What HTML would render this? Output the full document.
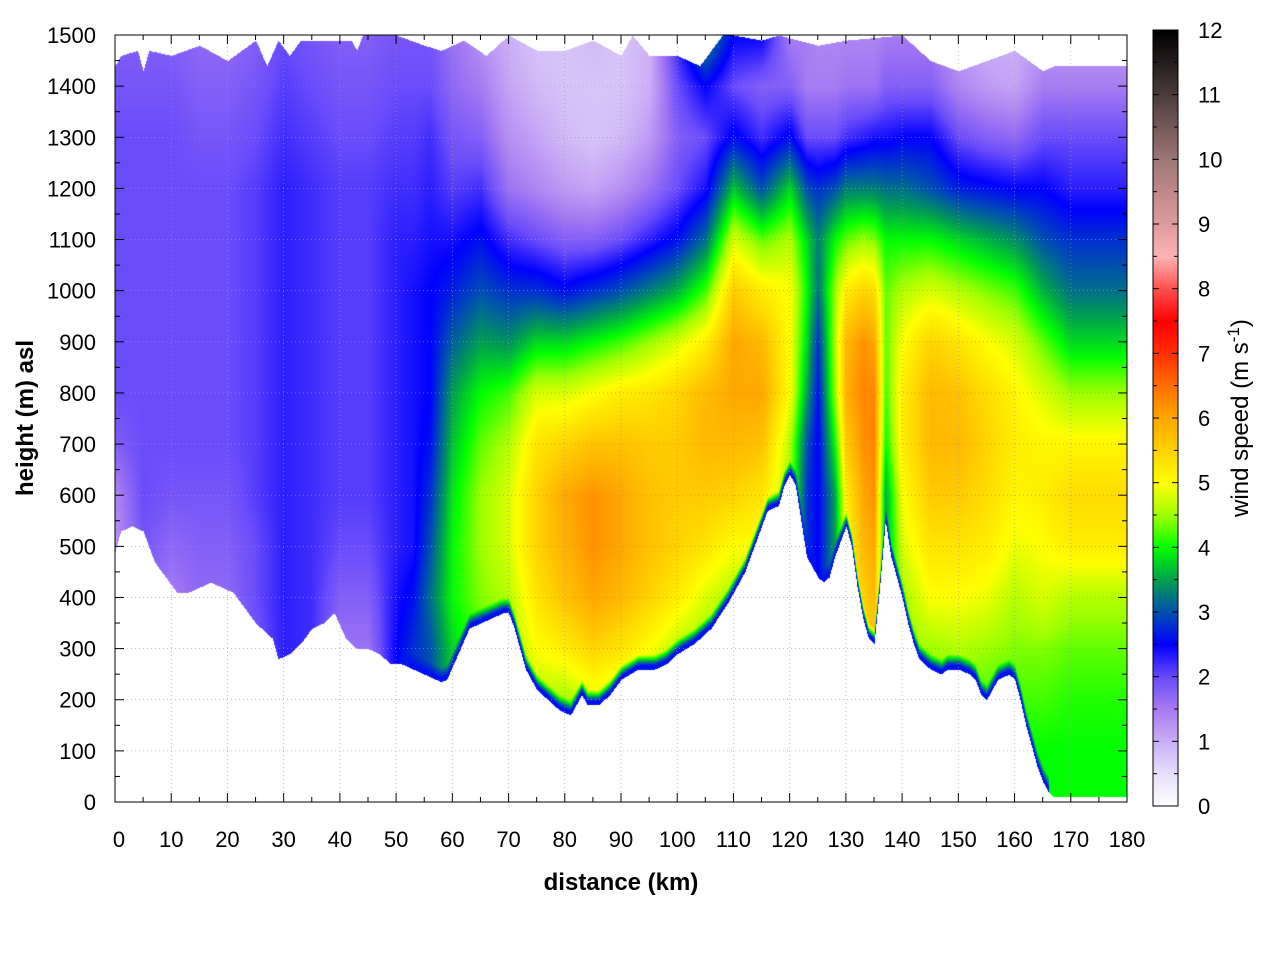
<!DOCTYPE html>
<html><head><meta charset="utf-8"><style>
body{margin:0;background:#fff;width:1280px;height:960px;overflow:hidden;font-family:"Liberation Sans",sans-serif}
#wrap{position:relative;width:1280px;height:960px}
canvas,svg{position:absolute;left:0;top:0}
</style></head><body>
<div id="wrap">
<canvas id="cv" width="1280" height="960"></canvas>
<svg id="sv" width="1280" height="960"></svg>
</div>
<script>
const distances=[0,5,10,15,20,25,30,35,40,45,50,53,56,60,65,70,75,80,85,90,95,100,105,110,115,120,123,125,128,130,133,135,137,140,145,150,155,160,165,170,175,180];
const speeds=[
[1.3,1.3,1.3,1.3,1.3,1.3,1.4,1.8,2,2,2,2,2,2,1.9,1.8],
[1.8,1.8,1.8,1.8,1.8,1.9,2,2,2,2,2,2,2,2,1.9,1.8],
[1.5,1.5,1.5,1.5,1.5,1.7,1.9,2,2,2,2,2,2,2,1.9,1.8],
[1.7,1.7,1.7,1.7,1.7,1.8,1.9,2,2,2,2,2,2,1.9,1.8,1.7],
[1.7,1.7,1.7,1.7,1.7,1.8,1.9,2,2,2,2,2,2,1.9,1.8,1.7],
[1.9,1.9,1.9,1.9,2,2,2.1,2.1,2.1,2.1,2.1,2.1,2.1,2,1.9,1.8],
[2.3,2.3,2.3,2.3,2.3,2.3,2.3,2.3,2.3,2.3,2.3,2.3,2.3,2.2,2.1,2],
[2.2,2.2,2.2,2.2,2.2,2.2,2.2,2.2,2.2,2.2,2.2,2.2,2.2,2.1,2,1.9],
[1.6,1.6,1.6,1.6,1.8,2,2.1,2.1,2.1,2.1,2.1,2.1,2.1,2,1.9,1.8],
[1.6,1.6,1.6,1.6,1.8,2,2.1,2.1,2.1,2.1,2.1,2.1,2.1,2,1.9,1.8],
[2.5,2.5,2.5,2.5,2.4,2.3,2.3,2.3,2.3,2.3,2.3,2.3,2.2,2.1,2,1.9],
[2.8,2.8,2.8,2.8,2.6,2.4,2.4,2.4,2.4,2.4,2.4,2.3,2.2,2.1,2,1.9],
[3,3,3,3,3.2,3,2.8,2.6,2.5,2.5,2.5,2.4,2.3,2.2,2,1.9],
[3.8,3.8,3.8,3.8,4,4,3.9,3.7,3.5,3.1,2.7,2.4,2.1,1.9,1.7,1.6],
[4.2,4.2,4.2,4.2,4.4,4.5,4.5,4.3,4,3.5,3,2.6,2.2,1.8,1.5,1.3],
[4.5,4.5,4.5,4.5,4.6,4.8,4.8,4.6,4.2,3.4,2.8,2.2,1.6,1.3,1.1,1],
[4.5,4.5,4.6,5,5.3,5.5,5.5,5.3,4.8,3.8,2.8,2,1.4,1.1,0.9,0.8],
[4.5,4.5,4.5,5.2,5.7,5.9,6,5.5,4.8,3.8,2.6,1.8,1.2,0.9,0.8,0.8],
[4.5,4.5,4.8,5.5,6,6.2,6.2,5.7,5,4,2.8,1.8,1.1,0.8,0.8,0.9],
[4.5,4.5,4.6,5.3,5.8,6,6,5.7,5.2,4.2,3,2,1.3,0.9,0.8,0.8],
[4.5,4.5,4.5,5,5.5,5.7,5.7,5.6,5.3,4.5,3.3,2.3,1.6,1.2,1,1],
[4.3,4.3,4.3,4.6,5.2,5.5,5.6,5.6,5.5,4.8,3.6,2.6,2,1.8,2,2.3],
[4.3,4.3,4.3,4.4,4.8,5.3,5.6,5.8,5.8,5.2,4.2,3.2,2.4,2,2.5,3.5],
[4.5,4.5,4.5,4.5,4.5,5,5.5,5.8,6,6,5.6,4.8,3.7,2.6,2,2.5],
[5,5,5,5,5,5,5.3,5.7,6,5.8,5.2,4.3,3,2.2,1.8,2.5],
[4.5,4.5,4.5,4.5,4.5,4.5,4.5,4.6,5,5,5,4.6,3.8,2.6,1.8,1.5],
[2.8,2.8,2.8,2.8,2.8,2.8,2.8,3,3.5,3.8,4,3.8,3,2,1.5,1.5],
[2.5,2.5,2.5,2.5,2.5,2.5,2.5,2.5,2.6,2.8,3.2,3.3,2.8,2,1.5,1.4],
[3.5,3.5,3.5,3.5,3.5,3.5,3.5,4,4.5,4.6,4.5,4,3,2,1.5,1.4],
[5,5,5,5,5,5,5.2,5.6,5.9,5.8,5.2,4.3,3.3,2.2,1.6,1.4],
[5.5,5.5,5.5,5.5,5.5,5.8,6,6.2,6.3,6.2,5.5,4.5,3.3,2.3,1.6,1.4],
[5.5,5.5,5.5,5.5,5.8,6,6.2,6.3,6.3,6,5.4,4.4,3.3,2.4,1.6,1.4],
[3.5,3.5,3.5,3.5,3.5,3.5,3.5,4,4.2,4.3,4.3,4,3.2,2.4,1.8,1.5],
[4.5,4.5,4.5,4.5,4.5,4.8,5,5.2,5.2,5,4.6,4,3.2,2.5,1.8,1.5],
[4.2,4.2,4.2,4.5,5,5.3,5.6,5.8,5.8,5.5,4.8,4,3,2.5,1.8,1.5],
[4.3,4.3,4.3,4.6,5,5.3,5.6,5.8,5.7,5.3,4.6,3.8,2.7,2,1.4,1.2],
[4,4,4.2,4.5,4.9,5.2,5.4,5.5,5.4,5,4.4,3.6,2.6,1.8,1.2,1],
[4,4,4.2,4.4,4.6,4.9,5.1,5.2,5.1,4.8,4.2,3.4,2.5,1.7,1.1,1],
[4,4,4.2,4.4,4.8,5,5.2,5.1,4.8,4.3,3.6,3,2.5,2,1.5,1.2],
[4,4,4.1,4.3,4.6,5.2,5.4,5.1,4.5,3.8,3.2,2.8,2.3,2,1.5,1.2],
[4,4,4.1,4.3,4.6,5.2,5.4,5.1,4.5,3.8,3.2,2.8,2.3,2,1.5,1.2],
[4,4,4.1,4.3,4.6,5.2,5.4,5.1,4.5,3.8,3.2,2.8,2.3,2,1.5,1.2]];
const heightLevels=[0,100,200,300,400,500,600,700,800,900,1000,1100,1200,1300,1400,1500];
const terrainKm=[0,1,3,5,7,9,11,13,15,17,19,21,23,25,27,28,29,31,33,35,37,39,41,43,45,47,49,51,53,55,57,58,59,61,63,65,67,69,70,71,72,73,75,77,79,81,82,83,84,86,88,90,93,96,98,100,103,106,109,112,114,116,118,119,120,121,122,123,125,126,127,128,129,130,131,132,133,134,135,136,137,138,139,140,141,142,143,145,147,148,150,152,153,154,155,156,157,159,160,161,162,163,164,165,166,167,180];
const terrainM=[490,530,540,530,470,440,410,410,420,430,420,410,380,350,330,320,280,290,310,340,350,370,320,300,300,290,270,270,260,250,240,235,240,290,340,350,360,370,370,340,300,260,220,200,180,170,190,210,190,190,210,240,260,260,270,290,310,340,390,450,510,570,580,620,640,620,550,480,440,430,440,480,510,540,500,420,360,320,310,420,550,480,440,400,350,310,280,260,250,260,260,250,240,210,200,220,240,250,240,200,150,110,70,40,20,10,10];
const topKm=[0,1,4,5,6,10,15,20,25,27,29,31,33,42,43,44,50,55,58,62,66,70,75,80,85,90,92,95,100,104,106,108,110,115,118,125,130,140,145,150,155,160,165,167,180];
const topM=[1440,1460,1470,1430,1470,1460,1480,1450,1490,1440,1490,1460,1490,1490,1470,1500,1500,1480,1470,1490,1460,1500,1470,1470,1490,1460,1500,1460,1460,1440,1470,1500,1500,1490,1500,1480,1490,1500,1450,1430,1450,1470,1430,1440,1440];
const xTicks=[0,10,20,30,40,50,60,70,80,90,100,110,120,130,140,150,160,170,180];
const yTicks=[0,100,200,300,400,500,600,700,800,900,1000,1100,1200,1300,1400,1500];
const cbTicks=[0,1,2,3,4,5,6,7,8,9,10,11,12];
const cmapV=[0,0.5,1,1.5,2,2.5,3,3.5,4,4.5,5,5.5,6,6.5,7,7.5,8,8.5,9,10,11,12];
const cmapC=["#ffffff","#e8e0fc","#cbb0f6","#a87cf2","#6a4cfa","#0000ff","#0050b0","#00a050","#00ff00","#a0ff00","#ffff00","#ffd400","#ffa800","#ff7000","#ff3000","#ff0000","#ff5050","#ffb4b4","#e09c9c","#a07878","#4c3c3c","#000000"];

const X0=115,X1=1127,Y0=802,Y1=35;
const xs=k=>X0+(X1-X0)*k/180, ys=m=>Y0-(Y0-Y1)*m/1500;
function interp(xa,ya,x){if(x<=xa[0])return ya[0];for(let i=1;i<xa.length;i++){if(x<=xa[i]){const t=(x-xa[i-1])/(xa[i]-xa[i-1]);return ya[i-1]+t*(ya[i]-ya[i-1]);}}return ya[ya.length-1];}
const rgb=cmapC.map(h=>[parseInt(h.slice(1,3),16),parseInt(h.slice(3,5),16),parseInt(h.slice(5,7),16)]);
function color(v){v=Math.max(0,Math.min(12,v));let i=1;while(i<cmapV.length-1&&v>cmapV[i])i++;const t=(v-cmapV[i-1])/(cmapV[i]-cmapV[i-1]);const a=rgb[i-1],b=rgb[i];return [a[0]+t*(b[0]-a[0]),a[1]+t*(b[1]-a[1]),a[2]+t*(b[2]-a[2])];}
function speedAt(k,m){let i=1;while(i<distances.length-1&&k>distances[i])i++;const t=(k-distances[i-1])/(distances[i]-distances[i-1]);let j=Math.min(14,Math.floor(m/100));const u=(m-heightLevels[j])/100;const a=speeds[i-1],b=speeds[i];const va=a[j]+(a[j+1]-a[j])*u,vb=b[j]+(b[j+1]-b[j])*u;return va+(vb-va)*t;}
const cv=document.getElementById('cv'),ctx=cv.getContext('2d');
const img=ctx.createImageData(X1-X0,Y0-Y1);
for(let px=0;px<X1-X0;px++){const k=px*180/(X1-X0);const tr=interp(terrainKm,terrainM,k),tp=interp(topKm,topM,k);
 for(let py=0;py<Y0-Y1;py++){const m=(Y0-Y1-py)*1500/(Y0-Y1);const o=(py*(X1-X0)+px)*4;let c=[255,255,255];
  if(m>=tr&&m<=tp){let v=speedAt(k,m);const d=m-tr;
   if(k>52&&k<166){if(d<8)v=2.6;else if(d<30)v=Math.min(v,2.6+(v-2.6)*(d-8)/22);}
   c=color(v);}
  img.data[o]=c[0];img.data[o+1]=c[1];img.data[o+2]=c[2];img.data[o+3]=255;}}
ctx.putImageData(img,X0,Y1);
const CB0=30,CB1=806,CBX=1153,CBW=25;
for(let y=CB0;y<CB1;y++){const c=color(12*(CB1-y)/(CB1-CB0));ctx.fillStyle=`rgb(${c[0]|0},${c[1]|0},${c[2]|0})`;ctx.fillRect(CBX,y,CBW,1);}
const sv=document.getElementById('sv');const NS='http://www.w3.org/2000/svg';
function el(t,a,txt){const e=document.createElementNS(NS,t);for(const k in a)e.setAttribute(k,a[k]);if(txt!==undefined)e.textContent=txt;sv.appendChild(e);return e;}
xTicks.forEach(k=>{const x=xs(k);
 const g=el('line',{x1:x,y1:Y1,x2:x,y2:Y0,stroke:'#999','stroke-width':0.6,'stroke-dasharray':'1,3'});
 
 
 el('line',{x1:x,y1:Y0,x2:x,y2:Y0-9,stroke:'#000'});el('line',{x1:x,y1:Y1,x2:x,y2:Y1+9,stroke:'#000'});
 const t=el('text',{x:x+(k===0?4:0),y:847,'font-size':22,'text-anchor':'middle'},k);
 
 
 if(k<180){const x2=xs(k+5);el('line',{x1:x2,y1:Y0,x2:x2,y2:Y0-5,stroke:'#000'});el('line',{x1:x2,y1:Y1,x2:x2,y2:Y1+5,stroke:'#000'});}});
yTicks.forEach(m=>{const y=ys(m);
 const g=el('line',{x1:X0,y1:y,x2:X1,y2:y,stroke:'#999','stroke-width':0.6,'stroke-dasharray':'1,3'});
 
 
 el('line',{x1:X0,y1:y,x2:X0+9,y2:y,stroke:'#000'});el('line',{x1:X1,y1:y,x2:X1-9,y2:y,stroke:'#000'});
 const t=el('text',{x:96,y:y+8,'font-size':22,'text-anchor':'end'},m);
 
 
 if(m<1500){const y2=ys(m+50);el('line',{x1:X0,y1:y2,x2:X0+5,y2:y2,stroke:'#000'});el('line',{x1:X1,y1:y2,x2:X1-5,y2:y2,stroke:'#000'});}});
const fr=el('rect',{x:X0,y:Y1,width:X1-X0,height:Y0-Y1,fill:'none',stroke:'#000','stroke-width':1});


const cbf=el('rect',{x:CBX,y:CB0,width:CBW,height:CB1-CB0,fill:'none',stroke:'#000','stroke-width':1});


cbTicks.forEach(v=>{const y=CB1-(CB1-CB0)*v/12;
 el('line',{x1:CBX,y1:y,x2:CBX+6,y2:y,stroke:'#000'});el('line',{x1:CBX+CBW,y1:y,x2:CBX+CBW-6,y2:y,stroke:'#000'});
 const t=el('text',{x:1198,y:y+8,'font-size':22},v);
 
 
 if(v<12){const y2=CB1-(CB1-CB0)*(v+0.5)/12;el('line',{x1:CBX,y1:y2,x2:CBX+4,y2:y2,stroke:'#000'});el('line',{x1:CBX+CBW,y1:y2,x2:CBX+CBW-4,y2:y2,stroke:'#000'});}});
const xt=el('text',{x:621,y:890,'font-size':24,'font-weight':'bold','text-anchor':'middle'},'distance (km)');


const yt=el('text',{x:0,y:0,'font-size':24,'font-weight':'bold','text-anchor':'middle',transform:'translate(33,418) rotate(-90)'},'height (m) asl');


const ct=el('text',{x:0,y:0,'font-size':24,'text-anchor':'middle',transform:'translate(1248,418) rotate(-90)'});


ct.innerHTML='wind speed (m s<tspan dy="-9" font-size="17">-1</tspan><tspan dy="9">)</tspan>';
</script>
</body></html>
